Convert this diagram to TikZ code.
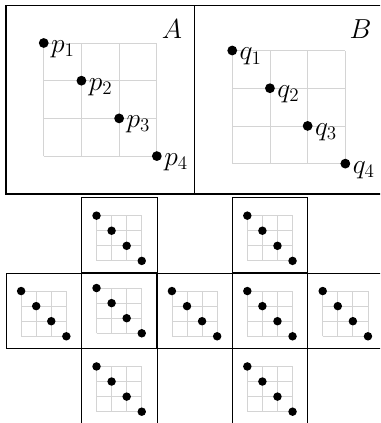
\documentclass[tikz,border=0pt]{standalone}
\begin{document}
\begin{tikzpicture}[
  gridline/.style={draw=black!17, line width=0.6pt},
  bigdot/.style={circle, fill=black, inner sep=0pt, minimum size=0.26cm},
  minidot/.style={circle, fill=black, inner sep=0pt, minimum size=0.225cm},
  lab/.style={inner sep=0pt, anchor=base west, font=\huge},
  title/.style={inner sep=0pt, anchor=base, font=\huge},
  bigbox/.style={draw=black, line width=1.1pt},
  minibox/.style={draw=black, line width=0.45pt},
  centerbox/.style={draw=black, line width=0.9pt}
]
\useasboundingbox (-0.16,0.14) rectangle (9.92,-11.08);
\clip (-0.16,0.14) rectangle (9.92,-11.08);

% ---------- top panels ----------
\draw[bigbox] (0,0) rectangle (5,-5);
\draw[bigbox] (5,0) rectangle (10,-5);

% panel A
\begin{scope}[shift={(1,-1)}]
  \draw[gridline] (0,0) grid (3,-3);
  \foreach \i in {0,...,3} \node[bigdot] (p\i) at (\i,-\i) {};
\end{scope}
\foreach \i/\k in {0/1,1/2,2/3,3/4} \node[lab] at ([shift={(0.19,-0.25)}]p\i) {$p_{\k}$};
\node[title] (A) at (4.4,-0.88) {$A$};

% panel B
\begin{scope}[shift={(6,-1.2)}]
  \draw[gridline] (0,0) grid (3,-3);
  \foreach \i in {0,...,3} \node[bigdot] (q\i) at (\i,-\i) {};
\end{scope}
\foreach \i/\k in {0/1,1/2,2/3,3/4} \node[lab] at ([shift={(0.19,-0.25)}]q\i) {$q_{\k}$};
\node[title] (B) at (9.4,-0.88) {$B$};

% ---------- mini panels ----------
% #1,#2: top-left corner, #3: vertical grid offset, #4: name prefix
\newcommand{\minipanel}[4]{%
  \begin{scope}[shift={(#1,#2)}, scale=0.4]
    \begin{scope}[shift={(1,-1-#3)}]
      \draw[gridline] (0,0) grid (3,-3);
      \foreach \i in {0,...,3} \node[minidot] (#4\i) at (\i,-\i) {};
    \end{scope}
  \end{scope}}

% boxes
\foreach \x/\y in {2/-5.1, 2/-9.1, 0/-7.1, 4/-7.1, 6/-5.1, 6/-9.1, 8/-7.1}
  \draw[minibox] (\x,\y) rectangle ++(2,-2);
\draw[centerbox] (2,-7.1) rectangle ++(2,-2);
\draw[centerbox] (6,-7.1) rectangle ++(2,-2);

% contents
\minipanel{2}{-7.1}{0}{ca}
\minipanel{2}{-5.1}{0.2}{ct}
\minipanel{2}{-9.1}{0.2}{cb}
\minipanel{0}{-7.1}{0.2}{cl}
\minipanel{4}{-7.1}{0.2}{cm}
\minipanel{6}{-7.1}{0.2}{dc}
\minipanel{6}{-5.1}{0.2}{dt}
\minipanel{6}{-9.1}{0.2}{db}
\minipanel{8}{-7.1}{0.2}{dr}
\end{tikzpicture}
\end{document}
